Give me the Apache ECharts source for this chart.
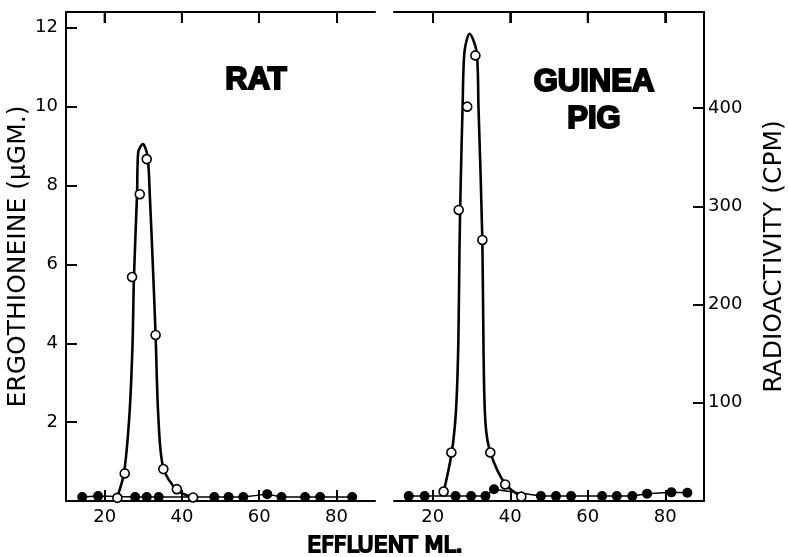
<!DOCTYPE html>
<html>
<head>
<meta charset="utf-8">
<script src="https://cdn.jsdelivr.net/npm/echarts@6/dist/echarts.min.js"></script>
<style>
  html, body { margin: 0; background: #fff; }
  #chart { width: 789px; height: 557px; }
</style>
</head>
<body>
<div id="chart"></div>
<script>
// values; x = effluent ml
const xTicks = [20, 40, 60, 80];
const ergoTicks = [2, 4, 6, 8, 10, 12];
const cpmTicks = [100, 200, 300, 400];

// RAT - drawn curve through the ergothioneine points
const ratCurveMl = [23.2, 25.0, 26.4, 27.2, 27.6, 28.4, 28.7, 29.9, 31.1, 31.7, 32.6, 33.2, 33.9, 35.2, 38.7, 42.9];
const ratCurveErgo = [0.08, 0.7, 2.15, 3.9, 5.7, 7.8, 8.85, 9.05, 8.75, 7.75, 5.7, 4.2, 2.15, 0.83, 0.28, 0.09];
// RAT - open circles (ergothioneine, ugm)
const ratErgoMl = [23.3, 25.2, 27.1, 29.1, 30.9, 33.2, 35.2, 38.7, 42.9];
const ratErgo = [0.08, 0.7, 5.68, 7.78, 8.67, 4.21, 0.81, 0.3, 0.09];
// RAT - filled circles (radioactivity, cpm)
const ratCpmMl = [14.2, 18.3, 27.9, 30.9, 34.0, 48.4, 52.1, 55.9, 62.1, 65.8, 71.9, 75.8, 84.1];
const ratCpm = [4, 5, 4, 4, 4, 4, 4, 4, 7, 4, 4, 4, 4];

// GUINEA PIG - drawn curve
const gpCurveMl = [22.8, 24.9, 26.0, 26.6, 26.9, 27.2, 27.7, 28.2, 29.5, 31.3, 31.8, 32.8, 33.1, 33.6, 34.9, 38.7, 42.8];
const gpCurveErgo = [0.22, 1.23, 2.3, 4.0, 6.4, 8.0, 10.0, 11.4, 11.85, 11.4, 10.0, 6.62, 3.85, 1.98, 1.22, 0.43, 0.11];
// GUINEA PIG - open circles
const gpErgoMl = [22.8, 24.8, 26.7, 28.9, 31.0, 32.8, 34.85, 38.7, 42.85];
const gpErgo = [0.24, 1.23, 7.38, 10.0, 11.3, 6.62, 1.23, 0.42, 0.11];
// GUINEA PIG - filled circles
const gpCpmMl = [13.8, 17.9, 25.9, 29.9, 33.6, 35.8, 47.9, 51.8, 55.7, 63.7, 67.5, 71.5, 75.3, 81.6, 85.7];
const gpCpm = [5, 5, 5, 5, 5, 12, 5, 5, 5, 5, 5, 5, 7.5, 8.8, 8.4];

const zip = (xs, ys) => xs.map((x, i) => [x, ys[i]]);

const FONT = 'DejaVu Sans';
const black = '#000';
const TICK_LEN = 11;

const xAxisOf = (grid, pos) => ({
  gridIndex: grid,
  type: 'value',
  position: pos,
  min: 10,
  max: 90,
  axisLine: {show: true, onZero: false, lineStyle: {color: black, width: 2}},
  axisTick: {show: true, inside: true, length: TICK_LEN, customValues: xTicks, lineStyle: {color: black, width: 2}},
  axisLabel: {
    show: pos === 'bottom', customValues: xTicks,
    color: black, fontSize: 18, fontFamily: FONT, margin: 7
  },
  splitLine: {show: false}
});

const curve = (name, x, y, data) => ({
  name, type: 'line', xAxisIndex: x, yAxisIndex: y, data,
  smooth: 0.3, showSymbol: false,
  lineStyle: {color: black, width: 2.6}, z: 2, silent: true
});
const openPts = (name, x, y, data) => ({
  name, type: 'scatter', xAxisIndex: x, yAxisIndex: y, data,
  symbol: 'circle', symbolSize: 9,
  itemStyle: {color: '#fff', borderColor: black, borderWidth: 1.6, opacity: 1}, z: 4
});
const filledPts = (name, x, y, data) => ({
  name, type: 'line', xAxisIndex: x, yAxisIndex: y, data,
  symbol: 'circle', symbolSize: 10, showAllSymbol: true,
  itemStyle: {color: black, borderWidth: 0},
  lineStyle: {color: black, width: 1.5}, z: 3
});

const chart = echarts.init(document.getElementById('chart'));
chart.setOption({
  animation: false,
  backgroundColor: '#fff',
  grid: [
    {left: 66, right: 414, top: 12, bottom: 56, outerBoundsMode: 'none', containLabel: false},
    {left: 394, right: 85, top: 12, bottom: 56, outerBoundsMode: 'none', containLabel: false}
  ],
  xAxis: [xAxisOf(0, 'bottom'), xAxisOf(0, 'top'), xAxisOf(1, 'bottom'), xAxisOf(1, 'top')],
  yAxis: [
    {
      gridIndex: 0, type: 'value', position: 'left', min: 0, max: 12.4,
      name: 'ERGOTHIONEINE (μGM.)', nameLocation: 'middle', nameRotate: 90, nameGap: 34,
      nameTextStyle: {color: black, fontSize: 25, fontFamily: FONT},
      axisLine: {show: true, onZero: false, lineStyle: {color: black, width: 2}},
      axisTick: {show: true, inside: true, length: TICK_LEN, customValues: ergoTicks, lineStyle: {color: black, width: 2}},
      axisLabel: {customValues: ergoTicks, color: black, fontSize: 18, fontFamily: FONT, margin: 8},
      splitLine: {show: false}
    },
    {gridIndex: 0, type: 'value', min: 0, max: 498, show: false},
    {gridIndex: 1, type: 'value', min: 0, max: 12.4, show: false},
    {
      gridIndex: 1, type: 'value', position: 'right', min: 0, max: 498,
      name: 'RADIOACTIVITY (CPM)', nameLocation: 'middle', nameRotate: 90, nameGap: 58,
      nameTextStyle: {color: black, fontSize: 25, fontFamily: FONT},
      axisLine: {show: true, onZero: false, lineStyle: {color: black, width: 2}},
      axisTick: {show: true, inside: true, length: TICK_LEN, customValues: cpmTicks, lineStyle: {color: black, width: 2}},
      axisLabel: {customValues: cpmTicks, color: black, fontSize: 18, fontFamily: FONT, margin: 4},
      splitLine: {show: false}
    }
  ],
  graphic: [
    // top frame continues across the gap, right panel has its own short left edge
    {type: 'line', shape: {x1: 375, y1: 12, x2: 394, y2: 12}, style: {stroke: black, lineWidth: 2}},
    {type: 'line', shape: {x1: 394, y1: 50, x2: 394, y2: 501}, style: {stroke: black, lineWidth: 2}},
    {type: 'text', x: 256, y: 80, style: {text: 'RAT', fill: black, font: 'bold 31px "Liberation Sans"', align: 'center', verticalAlign: 'middle', textAlign: 'center', textVerticalAlign: 'middle'}},
    {type: 'text', x: 594, y: 101, style: {text: 'GUINEA\nPIG', fill: black, font: 'bold 31px "Liberation Sans"', lineHeight: 37, align: 'center', verticalAlign: 'middle', textAlign: 'center', textVerticalAlign: 'middle'}},
    {type: 'text', x: 385, y: 546, style: {text: 'EFFLUENT ML.', fill: black, font: '22px "DejaVu Sans"', align: 'center', verticalAlign: 'middle', textAlign: 'center', textVerticalAlign: 'middle'}}
  ],
  series: [
    curve('rat curve', 0, 0, zip(ratCurveMl, ratCurveErgo)),
    filledPts('rat cpm', 0, 1, zip(ratCpmMl, ratCpm)),
    openPts('rat ergothioneine', 0, 0, zip(ratErgoMl, ratErgo)),
    curve('guinea pig curve', 2, 2, zip(gpCurveMl, gpCurveErgo)),
    filledPts('guinea pig cpm', 2, 3, zip(gpCpmMl, gpCpm)),
    openPts('guinea pig ergothioneine', 2, 2, zip(gpErgoMl, gpErgo))
  ]
});

// the top axes drop their ticks when they carry no labels, so add the
// downward ticks on the top frame, placed through the axes' own scales
const topTicks = [];
[[1, 0], [3, 2]].forEach(([xIdx, yIdx]) => {
  const yTop = chart.convertToPixel({yAxisIndex: yIdx}, 12.4);
  xTicks.forEach(v => {
    const x = chart.convertToPixel({xAxisIndex: xIdx}, v);
    topTicks.push({
      type: 'line', silent: true,
      shape: {x1: x, y1: yTop, x2: x, y2: yTop + TICK_LEN},
      style: {stroke: black, lineWidth: 2}
    });
  });
});
const base = chart.getOption().graphic[0].elements.map(e => ({id: e.id}));
chart.setOption({graphic: topTicks});
</script>
</body>
</html>
